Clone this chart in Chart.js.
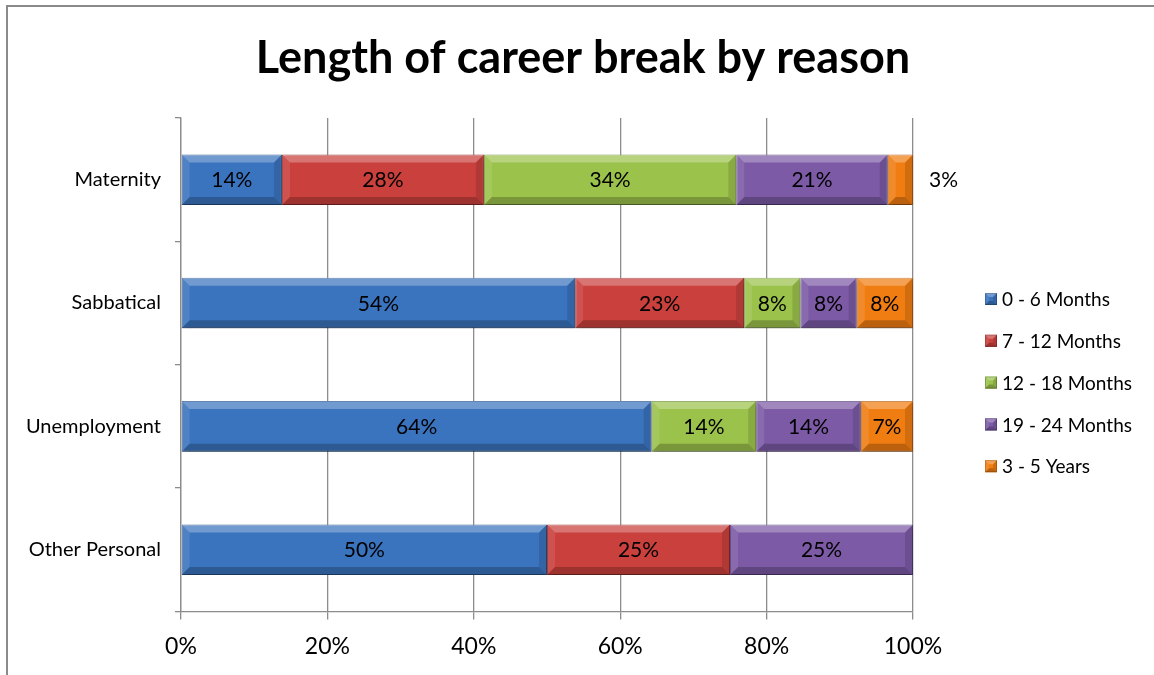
<!DOCTYPE html>
<html>
<head>
<meta charset="utf-8">
<script src="https://cdn.jsdelivr.net/npm/chart.js@4/dist/chart.umd.min.js"></script>
<style>
html,body{margin:0;padding:0;background:#fff;}
#wrap{position:relative;width:1154px;height:675px;overflow:hidden;}
#frame{position:absolute;left:6px;top:5px;width:1200px;height:700px;border-left:2px solid #8a8a8a;border-top:2px solid #8a8a8a;pointer-events:none;}
canvas{position:absolute;left:0;top:0;}
</style>
</head>
<body>
<div id="wrap">
<canvas id="c" width="1154" height="675"></canvas>
<div id="frame"></div>
</div>
<script>
const categories = ['Maternity', 'Sabbatical', 'Unemployment', 'Other Personal'];
const seriesNames = ['0 - 6 Months', '7 - 12 Months', '12 - 18 Months', '19 - 24 Months', '3 - 5 Years'];
const months0to6   = [13.79, 53.85, 64.29, 50];
const months7to12  = [27.59, 23.08, 0, 25];
const months12to18 = [34.48, 7.69, 14.29, 0];
const months19to24 = [20.69, 7.69, 14.29, 25];
const years3to5    = [3.45, 7.69, 7.13, 0];
const xTicks = [0, 20, 40, 60, 80, 100];
const titleText = 'Length of career break by reason';

const fills = ['#3B74BE', '#C9403D', '#9BC24B', '#7C5AA6', '#F07D12'];
const edges = ['#2C5A94', '#9B2F2D', '#76963A', '#5E4482', '#C26410'];
const FONT = 'Lato, "Open Sans", sans-serif';

function bevelRect(ctx, x0, y0, x1, y1, b) {
  const w = x1 - x0, h = y1 - y0;
  b = Math.min(b, w / 2, h / 2);
  ctx.fillStyle = 'rgba(255,255,255,0.28)';
  ctx.beginPath(); ctx.moveTo(x0, y0); ctx.lineTo(x1, y0); ctx.lineTo(x1 - b, y0 + b); ctx.lineTo(x0 + b, y0 + b); ctx.closePath(); ctx.fill();
  ctx.fillStyle = 'rgba(255,255,255,0.10)';
  ctx.beginPath(); ctx.moveTo(x0, y0); ctx.lineTo(x0 + b, y0 + b); ctx.lineTo(x0 + b, y1 - b); ctx.lineTo(x0, y1); ctx.closePath(); ctx.fill();
  ctx.fillStyle = 'rgba(0,0,0,0.22)';
  ctx.beginPath(); ctx.moveTo(x0, y1); ctx.lineTo(x1, y1); ctx.lineTo(x1 - b, y1 - b); ctx.lineTo(x0 + b, y1 - b); ctx.closePath(); ctx.fill();
  ctx.fillStyle = 'rgba(0,0,0,0.12)';
  ctx.beginPath(); ctx.moveTo(x1, y0); ctx.lineTo(x1, y1); ctx.lineTo(x1 - b, y1 - b); ctx.lineTo(x1 - b, y0 + b); ctx.closePath(); ctx.fill();
}

const barDecor = {
  id: 'barDecor',
  beforeDatasetsDraw(chart) {
    const ctx = chart.ctx;
    ctx.save();
    ctx.shadowColor = 'rgba(0,0,0,0.30)';
    ctx.shadowBlur = 5;
    ctx.shadowOffsetX = 1;
    ctx.shadowOffsetY = 3;
  },
  afterDatasetsDraw(chart) {
    const ctx = chart.ctx;
    ctx.restore();
    ctx.save();
    chart.data.datasets.forEach((ds, di) => {
      const meta = chart.getDatasetMeta(di);
      meta.data.forEach((el, i) => {
        const v = ds.data[i];
        if (!v) return;
        const p = el.getProps(['x', 'y', 'base', 'height'], true);
        const x0 = Math.min(p.x, p.base), x1 = Math.max(p.x, p.base);
        const y0 = p.y - p.height / 2, y1 = p.y + p.height / 2;
        bevelRect(ctx, x0, y0, x1, y1, 8);
      });
    });
    ctx.font = '21px ' + FONT;
    ctx.fillStyle = '#000';
    ctx.textBaseline = 'middle';
    chart.data.datasets.forEach((ds, di) => {
      const meta = chart.getDatasetMeta(di);
      meta.data.forEach((el, i) => {
        const v = ds.data[i];
        if (!v) return;
        const p = el.getProps(['x', 'y', 'base', 'height'], true);
        const txt = Math.round(v) + '%';
        const tw = ctx.measureText(txt).width;
        const segW = Math.abs(p.x - p.base);
        if (tw + 4 > segW) {
          ctx.textAlign = 'left';
          ctx.fillText(txt, Math.max(p.x, p.base) + 16, p.y + 1);
        } else {
          ctx.textAlign = 'center';
          ctx.fillText(txt, (p.x + p.base) / 2, p.y + 1);
        }
      });
    });
    ctx.restore();
  },
  afterDraw(chart) {
    const ctx = chart.ctx;
    ctx.save();
    ctx.font = 'bold 45px ' + FONT;
    ctx.fillStyle = '#000';
    ctx.textAlign = 'center';
    ctx.textBaseline = 'alphabetic';
    ctx.fillText(titleText, 583, 73);
    ctx.font = '19px ' + FONT;
    ctx.textBaseline = 'middle';
    ctx.textAlign = 'left';
    const x = 985, y0 = 299, step = 41.8, s = 12;
    chart.data.datasets.forEach((ds, di) => {
      const y = y0 + di * step;
      ctx.fillStyle = fills[di];
      ctx.fillRect(x, y - s / 2, s, s);
      ctx.strokeStyle = edges[di];
      ctx.lineWidth = 1;
      ctx.strokeRect(x + 0.5, y - s / 2 + 0.5, s - 1, s - 1);
      bevelRect(ctx, x, y - s / 2, x + s, y + s / 2, 4);
      ctx.fillStyle = '#000';
      ctx.fillText(ds.label, x + 17, y + 1);
    });
    ctx.restore();
  }
};

const seriesData = [months0to6, months7to12, months12to18, months19to24, years3to5];

new Chart(document.getElementById('c'), {
  type: 'bar',
  data: {
    labels: categories,
    datasets: seriesNames.map((n, i) => ({
      label: n,
      data: seriesData[i],
      backgroundColor: fills[i],
      borderColor: edges[i],
      borderWidth: 1,
      borderSkipped: false,
      categoryPercentage: 1.0,
      barPercentage: 0.41
    }))
  },
  options: {
    indexAxis: 'y',
    responsive: false,
    animation: false,
    layout: { padding: { left: 0, right: 241, top: 118, bottom: 2 } },
    plugins: {
      legend: { display: false },
      tooltip: { enabled: false },
      title: { display: false }
    },
    scales: {
      x: {
        stacked: true,
        min: 0, max: 100,
        afterBuildTicks(scale) { scale.ticks = xTicks.map(v => ({ value: v })); },
        ticks: {
          callback: v => v + '%',
          color: '#000',
          font: { family: FONT, size: 23 },
          padding: 13,
          maxRotation: 0
        },
        grid: { color: '#8c8c8c', lineWidth: 1.3, tickLength: 8 },
        border: { color: '#8c8c8c', width: 1.3 }
      },
      y: {
        stacked: true,
        afterFit(scale) { scale.width = 181; },
        ticks: {
          color: '#000',
          font: { family: FONT, size: 20 },
          padding: 14
        },
        grid: { drawOnChartArea: false, color: '#8c8c8c', lineWidth: 1.3, tickLength: 6, offset: true },
        border: { color: '#8c8c8c', width: 1.3 }
      }
    }
  },
  plugins: [barDecor]
});
</script>
</body>
</html>
